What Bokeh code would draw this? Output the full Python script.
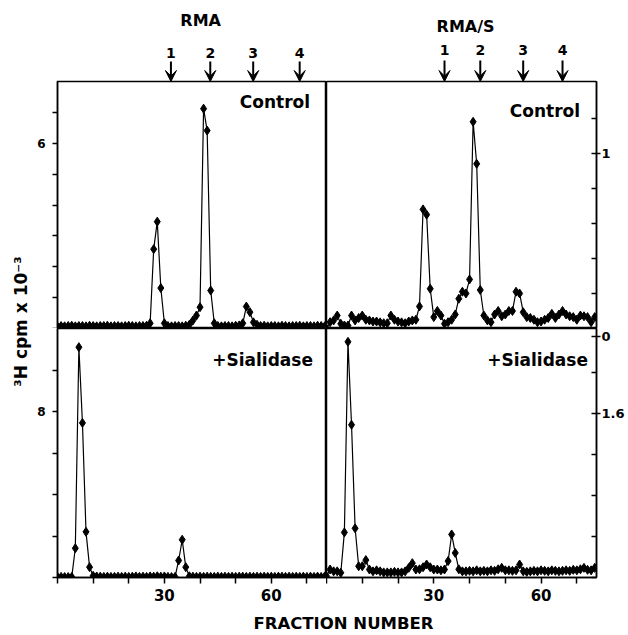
import math
from bokeh.plotting import figure
from bokeh.layouts import row, column
from bokeh.models import Range1d, LinearAxis, FixedTicker, Label, Arrow, VeeHead, Span
from bokeh.embed import file_html
from bokeh.resources import INLINE

# ---------------- data ----------------
fractions = list(range(76))

rma_control = [0.06, 0.08, 0.07, 0.08, 0.09, 0.07, 0.08, 0.08, 0.07, 0.09, 0.08, 0.07, 0.08,
               0.08, 0.09, 0.07, 0.08, 0.08, 0.07, 0.08, 0.09, 0.08, 0.07, 0.08, 0.08, 0.09,
               0.17, 2.57, 3.46, 1.31, 0.17,
               0.08, 0.07, 0.08, 0.08, 0.07, 0.09, 0.12,
               0.26, 0.42, 0.69, 7.12, 6.41, 1.23, 0.17,
               0.08, 0.07, 0.08, 0.08, 0.07, 0.09, 0.10,
               0.17, 0.71, 0.53, 0.20, 0.12,
               0.08, 0.09, 0.07, 0.08, 0.08, 0.07, 0.09, 0.08, 0.07, 0.08, 0.08, 0.09, 0.07,
               0.08, 0.08, 0.07, 0.09, 0.08, 0.07]

rmas_control = [0.0, 0.036, 0.046, 0.074, 0.027, 0.017, 0.017, 0.074, 0.046, 0.06, 0.074,
                0.05, 0.046, 0.04, 0.04, 0.035, 0.03, 0.03, 0.074, 0.05, 0.04, 0.035, 0.03,
                0.04, 0.046, 0.05, 0.126, 0.68, 0.65, 0.227, 0.065, 0.10, 0.074, 0.027, 0.036,
                0.05, 0.08, 0.17, 0.21, 0.20, 0.28, 1.18, 0.94, 0.22, 0.074, 0.046, 0.036,
                0.08, 0.10, 0.07, 0.08, 0.10, 0.10, 0.21, 0.20, 0.093, 0.065, 0.06, 0.05,
                0.036, 0.04, 0.05, 0.06, 0.084, 0.06, 0.08, 0.10, 0.08, 0.07, 0.065, 0.05,
                0.074, 0.07, 0.065, 0.036, 0.065]

rma_sialidase = [0.02, 0.03, 0.02, 0.02, 0.03,
                 1.41, 11.1, 7.45, 2.2, 0.5, 0.08,
                 0.05, 0.04, 0.03, 0.04, 0.03, 0.03, 0.04, 0.03, 0.04, 0.03, 0.04, 0.05,
                 0.03, 0.04, 0.03, 0.05, 0.04, 0.06, 0.04, 0.05, 0.03, 0.02,
                 0.03, 0.82, 1.82, 0.5, 0.06,
                 0.04, 0.03, 0.04, 0.03, 0.04, 0.03, 0.03, 0.04, 0.03, 0.04, 0.03, 0.04,
                 0.03, 0.04, 0.04, 0.03, 0.04, 0.03, 0.04, 0.03, 0.04, 0.03, 0.04, 0.03,
                 0.04, 0.04, 0.03, 0.04, 0.03, 0.04, 0.03, 0.04, 0.03, 0.04, 0.03, 0.04,
                 0.03, 0.05]

rmas_sialidase = [0.013, 0.078, 0.06, 0.06, 0.046, 0.44, 2.30, 1.49, 0.48, 0.11, 0.11,
                  0.17, 0.078, 0.06, 0.07, 0.06, 0.05, 0.05, 0.05, 0.055, 0.05, 0.05, 0.06,
                  0.094, 0.14, 0.078, 0.08, 0.10, 0.127, 0.10, 0.078, 0.078, 0.07, 0.078,
                  0.16, 0.42, 0.24, 0.08, 0.06, 0.06, 0.065, 0.06, 0.07, 0.06, 0.065, 0.06,
                  0.07, 0.065, 0.08, 0.094, 0.07, 0.07, 0.065, 0.07, 0.127, 0.06, 0.055,
                  0.06, 0.065, 0.06, 0.07, 0.065, 0.06, 0.07, 0.065, 0.06, 0.065, 0.07,
                  0.065, 0.075, 0.07, 0.08, 0.094, 0.075, 0.07, 0.094]

rma_standards = [32, 43, 55, 68]
rmas_standards = [33, 43, 55, 66]
standard_labels = ["1", "2", "3", "4"]

x_ticks = [0, 10, 20, 30, 40, 50, 60, 70]
x_labeled = [30, 60]

FONT = "DejaVu Sans"

# ---------------- helpers ----------------
def base_fig(width, height, x_range, y_range, left=0, right=0, top=0, bottom=0):
    f = figure(width=width, height=height, x_range=x_range, y_range=y_range,
               x_axis_type=None, y_axis_type=None, toolbar_location=None,
               output_backend="svg", min_border=0, min_border_left=left,
               min_border_right=right, min_border_top=top, min_border_bottom=bottom)
    f.background_fill_color = "white"
    f.border_fill_color = "white"
    f.outline_line_color = None
    return f


def panel(width, height, x_range, y_max, left, right, bottom):
    p = base_fig(width, height, x_range, Range1d(0, y_max), left, right, 0, bottom)
    p.outline_line_color = "black"
    p.outline_line_width = 1.5
    return p


def style_axis(ax, size, font=FONT):
    ax.axis_line_width = 1.5
    ax.axis_line_color = "black"
    ax.major_tick_line_width = 1.5
    ax.minor_tick_line_width = 1.5
    ax.major_label_text_font = font
    ax.major_label_text_font_style = "bold"
    ax.major_label_text_font_size = size
    ax.major_label_text_color = "black"


def left_axis(p, major, minor):
    ax = LinearAxis(ticker=FixedTicker(ticks=major, minor_ticks=minor))
    style_axis(ax, "12px")
    ax.major_tick_out = 5
    ax.major_tick_in = 0
    ax.minor_tick_out = 5
    ax.minor_tick_in = 0
    ax.major_label_standoff = 7
    p.add_layout(ax, "left")


def right_axis(p, major, minor, overrides=None):
    ax = LinearAxis(ticker=FixedTicker(ticks=major, minor_ticks=minor))
    style_axis(ax, "13px")
    ax.major_tick_out = 4
    ax.major_tick_in = 5
    ax.minor_tick_out = 0
    ax.minor_tick_in = 5
    ax.major_label_standoff = 1
    if overrides:
        ax.major_label_overrides = overrides
    p.add_layout(ax, "right")


def bottom_axis(p):
    minor = [t for t in x_ticks if t not in x_labeled]
    ax = LinearAxis(ticker=FixedTicker(ticks=x_labeled, minor_ticks=minor))
    style_axis(ax, "15px")
    ax.major_tick_out = 6
    ax.major_tick_in = 0
    ax.minor_tick_out = 6
    ax.minor_tick_in = 0
    ax.major_label_standoff = 5
    p.add_layout(ax, "below")


def draw(p, values):
    p.line(fractions, values, line_color="black", line_width=1.2)
    p.scatter(fractions, values, marker="diamond", size=9, color="black")


def text_label(p, x, y, text, size, align="center", baseline="middle", angle=0.0,
               font=FONT):
    p.add_layout(Label(x=x, y=y, text=text, text_font=font, text_font_style="bold",
                       text_font_size=size, text_align=align, text_baseline=baseline,
                       text_color="black", angle=angle))


# ---------------- geometry ----------------
YL_W = 34
LEFT_B, RIGHT_B = 22, 32
FRAME_W = 270
LEFT_W, RIGHT_W = LEFT_B + FRAME_W, FRAME_W + RIGHT_B
STRIP_H, TOP_H, BOT_FRAME, BOT_B = 81, 247, 249, 28
BOT_H = BOT_FRAME + BOT_B
XL_H = 30
X_END = 75.5

xr_left = Range1d(0, X_END)
xr_right = Range1d(0, X_END)

# ---------------- top strips (standards arrows) ----------------
def strip(width, xr, left, right, standards, num_y, tail_y, title, title_x, title_y):
    s = base_fig(width, STRIP_H, xr, Range1d(0, STRIP_H), left, right)
    for f, lab in zip(standards, standard_labels):
        s.add_layout(Arrow(end=VeeHead(size=11, fill_color="black", line_color="black",
                                       line_width=1),
                           x_start=f, y_start=tail_y, x_end=f, y_end=0,
                           line_width=2, line_color="black"))
        text_label(s, f, num_y, lab, "14px")
    text_label(s, title_x, title_y, title, "16px")
    s.add_layout(Span(location=0, dimension="width", line_color="black", line_width=1.5))
    return s

s_left = strip(LEFT_W, xr_left, LEFT_B, 0, rma_standards, 29, 20, "RMA", 40.3, 61)
s_right = strip(RIGHT_W, xr_right, 0, RIGHT_B, rmas_standards, 32, 21, "RMA/S", 38.9, 55)

# ---------------- panels ----------------
tl = panel(LEFT_W, TOP_H, xr_left, 8, LEFT_B, 0, 0)
draw(tl, rma_control)
left_axis(tl, [6], [0, 1, 2, 3, 4, 5, 7])
text_label(tl, 70.9, 7.33, "Control", "17px", align="right")

tr = panel(RIGHT_W, TOP_H, xr_right, 1.41, 0, RIGHT_B, 0)
draw(tr, rmas_control)
right_axis(tr, [1], [0, 0.2, 0.4, 0.6, 0.8, 1.2])
text_label(tr, 70.9, 1.24, "Control", "17px", align="right")

bl = panel(LEFT_W, BOT_H, xr_left, 12, LEFT_B, 0, BOT_B)
draw(bl, rma_sialidase)
left_axis(bl, [8], [0, 2, 4, 6, 10])
bottom_axis(bl)
text_label(bl, 71.7, 10.48, "+Sialidase", "17px", align="right")

br = panel(RIGHT_W, BOT_H, xr_right, 2.43, 0, RIGHT_B, BOT_B)
draw(br, rmas_sialidase)
# the "0" of the upper right scale is printed just below the panel boundary
right_axis(br, [1.6, 2.35], [0, 0.4, 0.8, 1.2, 2.0], overrides={2.35: "0"})
bottom_axis(br)
text_label(br, 73.1, 2.12, "+Sialidase", "17px", align="right")

# ---------------- axis titles ----------------
total_h = STRIP_H + TOP_H + BOT_H
ylab = base_fig(YL_W, total_h, Range1d(0, YL_W), Range1d(0, total_h))
text_label(ylab, 20, total_h - 321, "\u00b3H cpm x 10\u207b\u00b3", "17px", angle=math.pi / 2)

total_w = YL_W + LEFT_W + RIGHT_W
xlab = base_fig(total_w, XL_H, Range1d(0, total_w), Range1d(0, XL_H))
text_label(xlab, 343, 12, "FRACTION NUMBER", "16.5px")

layout = column(
    row(ylab, column(row(s_left, s_right), row(tl, tr), row(bl, br))),
    xlab,
)

open("out.html", "w").write(file_html(layout, INLINE))
